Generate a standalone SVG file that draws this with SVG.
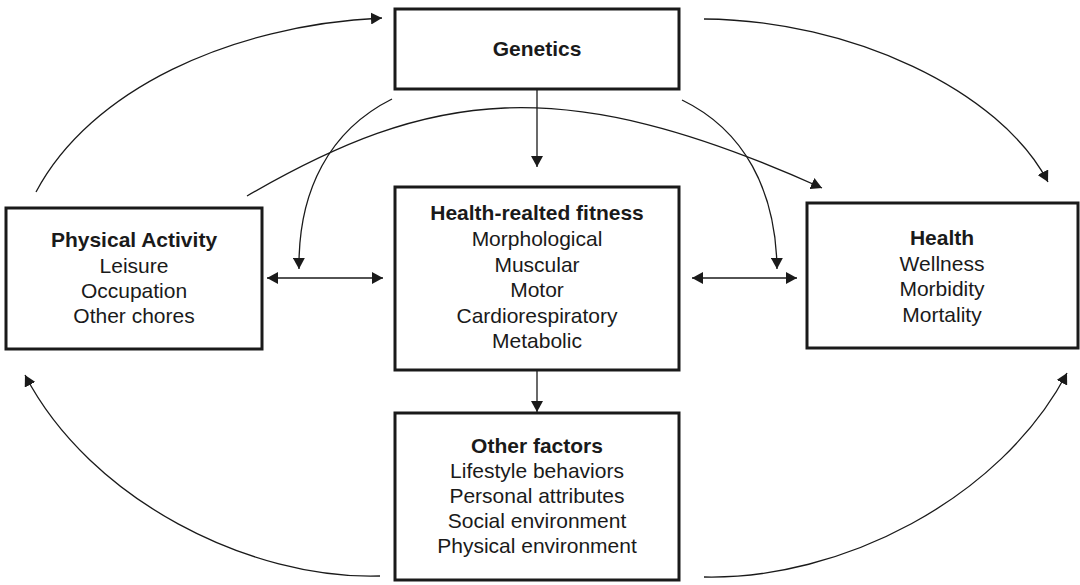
<svg xmlns="http://www.w3.org/2000/svg" width="1080" height="585" viewBox="0 0 1080 585">
<style>
.box{fill:#fff;stroke:#1a1a1a;stroke-width:3}
.t{font-family:"Liberation Sans",Arial,sans-serif;font-size:21px;fill:#1a1a1a;text-anchor:middle}
.b{font-weight:bold}
.c{fill:none;stroke:#1a1a1a;stroke-width:1.3}
</style>
<defs>
<marker id="ah" markerUnits="userSpaceOnUse" markerWidth="12" markerHeight="12" refX="11" refY="6" orient="auto-start-reverse">
<path d="M0,0 L11,6 L0,12 z" fill="#1a1a1a"/>
</marker>
</defs>
<rect width="1080" height="585" fill="#fff"/>
<g id="connectors">
<path class="c" d="M36,192 C90,90 230,25 382,18" marker-end="url(#ah)"/>
<path class="c" d="M247,196 C430,90 560,70 822,188" marker-end="url(#ah)"/>
<path class="c" d="M392,99 C330,130 298,190 299,269" marker-end="url(#ah)"/>
<path class="c" d="M682,100 C744,130 776,190 777,269" marker-end="url(#ah)"/>
<path class="c" d="M704,19 C850,20 1000,90 1048,182" marker-end="url(#ah)"/>
<path class="c" d="M380,576 C250,580 90,500 25,375" marker-end="url(#ah)"/>
<path class="c" d="M704,577 C840,580 1000,500 1067,373" marker-end="url(#ah)"/>
<path class="c" d="M537,90 L537,167" marker-end="url(#ah)"/>
<path class="c" d="M537,371 L537,412" marker-end="url(#ah)"/>
<path class="c" d="M267,278 L383,278" marker-start="url(#ah)" marker-end="url(#ah)"/>
<path class="c" d="M692,278 L797,278" marker-start="url(#ah)" marker-end="url(#ah)"/>
</g>
<g id="genetics">
<rect class="box" x="395" y="9" width="284" height="80"/>
<text class="t b" x="537" y="56">Genetics</text>
</g>
<g id="physical-activity">
<rect class="box" x="6" y="208" width="256" height="141"/>
<text class="t b" x="134" y="247">Physical Activity</text>
<text class="t" x="134" y="273">Leisure</text>
<text class="t" x="134" y="298">Occupation</text>
<text class="t" x="134" y="323">Other chores</text>
</g>
<g id="fitness">
<rect class="box" x="395" y="187" width="284" height="183"/>
<text class="t b" x="537" y="220">Health-realted fitness</text>
<text class="t" x="537" y="246">Morphological</text>
<text class="t" x="537" y="272">Muscular</text>
<text class="t" x="537" y="297">Motor</text>
<text class="t" x="537" y="323">Cardiorespiratory</text>
<text class="t" x="537" y="348">Metabolic</text>
</g>
<g id="health">
<rect class="box" x="807" y="203" width="271" height="145"/>
<text class="t b" x="942" y="245">Health</text>
<text class="t" x="942" y="271">Wellness</text>
<text class="t" x="942" y="296">Morbidity</text>
<text class="t" x="942" y="322">Mortality</text>
</g>
<g id="other-factors">
<rect class="box" x="395" y="413" width="284" height="167"/>
<text class="t b" x="537" y="453">Other factors</text>
<text class="t" x="537" y="478">Lifestyle behaviors</text>
<text class="t" x="537" y="503">Personal attributes</text>
<text class="t" x="537" y="528">Social environment</text>
<text class="t" x="537" y="553">Physical environment</text>
</g>
</svg>
